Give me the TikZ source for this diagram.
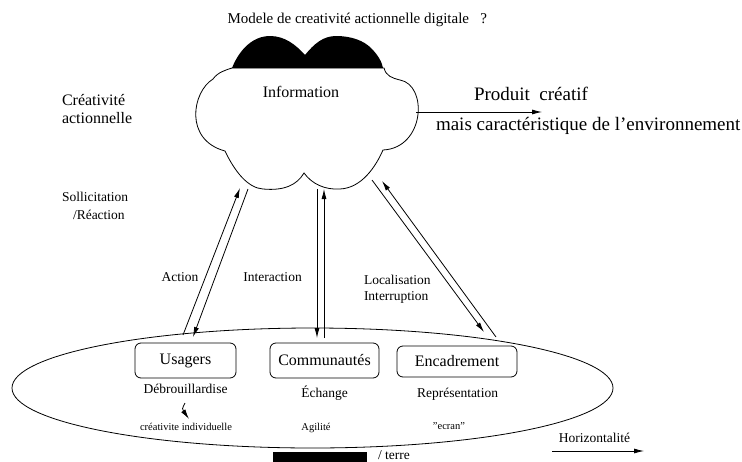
\documentclass[tikz,border=0pt]{standalone}
\usepackage{fontspec}
\setmainfont{Liberation Serif}
\usetikzlibrary{arrows.meta}
\newcommand{\fs}[1]{\fontsize{#1}{#1}\selectfont}
\begin{document}
\begin{tikzpicture}[x=1pt,y=-1pt,
  line width=0.8pt,
  every node/.style={inner sep=0pt,outer sep=0pt},
  txt/.style={anchor=base},
  txtw/.style={anchor=base west},
  big/.style={font=\fs{19}},
  mid/.style={font=\fs{16}},
  sm/.style={font=\fs{13.5}},
  tiny/.style={font=\fs{10.5}},
  boxnode/.style={draw,rounded corners=6pt,font=\fs{16},minimum height=35pt},
  arr/.style={-{Latex[length=10pt,width=5pt]}}]
\useasboundingbox (0,0) rectangle (742,461);
% title
\node[txt,font=\fs{15},anchor=base east] (title) at (487,23) {Modele de creativité actionnelle digitale \ \ ?};
% cloud black cap
\fill (232,68) .. controls (240,48) and (254,36) .. (270,36)
  .. controls (285,36) and (296,45) .. (305,55)
  .. controls (314,44) and (323,36) .. (336,36)
  .. controls (352,36) and (364,41) .. (371,48)
  .. controls (378,55) and (382,62) .. (383,68) -- cycle;
% cloud outline
\draw (232,68) .. controls (226,70) and (218,72) .. (213,79)
  .. controls (192,92) and (184,140) .. (225,151)
  .. controls (235,172) and (248,188) .. (263,189)
  .. controls (284,191) and (297,185) .. (304,173)
  .. controls (312,184) and (325,190) .. (340,189)
  .. controls (362,188) and (376,166) .. (383,150)
  .. controls (425,148) and (428,85) .. (400,80)
  .. controls (392,78) and (386,76) .. (384,68) -- (232,68);
\node[txt,mid] (info) at (301,97) {Information};
% product arrow
\coordinate (cr) at (416,112);
\coordinate (pr) at (542,112);
\draw[arr] (cr) -- (pr);
\node[txtw,big] (prod) at (474,100) {Produit\ \ créatif};
\node[txtw,big] (mais) at (436,130) {mais caractéristique de l’environnement};
% left labels
\node[txtw,mid] (crea1) at (62,105) {Créativité};
\node[txtw,mid] (crea2) at (62,123) {actionnelle};
\node[txtw,sm] (soll) at (62,201) {Sollicitation};
\node[txtw,sm] (reac) at (73,219) {/Réaction};
% ellipse
\draw (312.5,388) ellipse [x radius=300.5, y radius=60];
\fill (273,452) rectangle (367,463);
\node[txtw,sm] (terre) at (378,459.5) {/ terre};
% boxes
\node[boxnode,minimum width=101pt] (us) at (185.5,360.5) {Usagers};
\node[boxnode,minimum width=109pt] (co) at (324.5,360.5) {Communautés};
\node[boxnode,minimum width=120pt,minimum height=31pt] (en) at (457,361.5) {Encadrement};
% labels under boxes
\node[txt,sm] (deb) at (185.5,393) {Débrouillardise};
\node[txt,sm] (ech) at (324.5,397) {Échange};
\node[txt,sm] (rep) at (457.5,397) {Représentation};
\node[txt,tiny] (ci) at (186,430) {créativite individuelle};
\node[txt,tiny] (agi) at (316,430) {Agilité};
\node[txt,tiny] (ecr) at (449,429) {\char34 ecran\char34};
\coordinate (d1) at (185,403);
\coordinate (d2) at (189,419);
\draw[arr] (d1) .. controls (182,409) .. (d2);
% horizontalite
\node[txt,sm] (hor) at (594.5,442) {Horizontalité};
\coordinate (h1) at (552,451);
\coordinate (h2) at (644,451);
\draw[arr] (h1) -- (h2);
% connectors
\coordinate (a1b) at (183,335);
\coordinate (a1t) at (240,188);
\coordinate (a2t) at (248,189);
\coordinate (a2b) at (193,337);
\draw[arr] (a1b) -- (a1t);
\draw[arr] (a2t) -- (a2b);
\coordinate (i1t) at (317,189);
\coordinate (i1b) at (317,338);
\coordinate (i2b) at (324,338);
\coordinate (i2t) at (324,189);
\draw[arr] (i1t) -- (i1b);
\draw[arr] (i2b) -- (i2t);
\coordinate (l1t) at (372,180);
\coordinate (l1b) at (484,332);
\coordinate (l2b) at (496,337);
\coordinate (l2t) at (382,181);
\draw[arr] (l1t) -- (l1b);
\draw[arr] (l2b) -- (l2t);
\node[txt,sm] (act) at (180,281) {Action};
\node[txt,sm] (inter) at (272.5,281) {Interaction};
\node[txtw,sm] (loc) at (364,284) {Localisation};
\node[txtw,sm] (intr) at (364,300) {Interruption};
\end{tikzpicture}
\end{document}
